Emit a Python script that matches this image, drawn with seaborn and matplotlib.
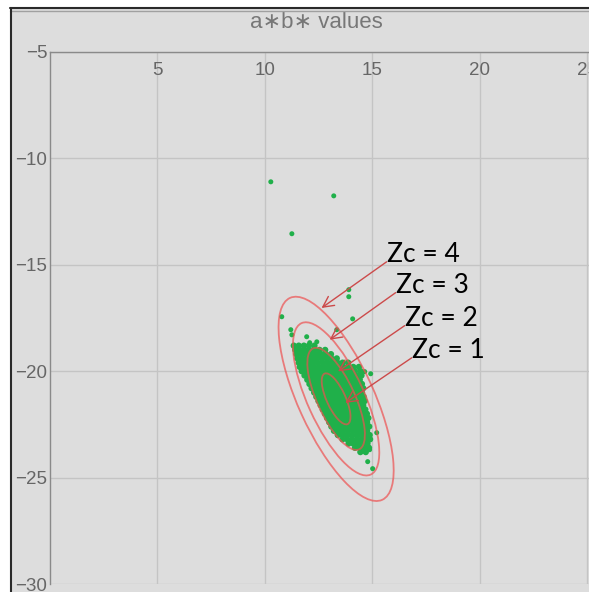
import numpy as np
import pandas as pd
import matplotlib
matplotlib.use("Agg")
import matplotlib.pyplot as plt
from matplotlib.patches import Ellipse, Rectangle
from matplotlib.lines import Line2D
from matplotlib.ticker import MultipleLocator
import seaborn as sns

# dense cluster (a* value lists per b* row)
row_y = [-18.8, -19.0, -19.2, -19.4, -19.6, -19.8, -20.0, -20.2, -20.4,
         -20.6, -20.8, -21.0, -21.2, -21.4, -21.6, -21.8, -22.0, -22.2,
         -22.4, -22.6, -22.8, -23.0, -23.2, -23.4, -23.6, -23.8]
row_x = [
    [11.35, 11.58, 11.82, 12.05, 12.31],
    [11.42, 11.63, 11.85, 12.08, 12.30, 12.55, 12.81],
    [11.47, 11.70, 11.93, 12.14, 12.37, 12.60, 12.83, 13.08],
    [11.52, 11.74, 11.96, 12.19, 12.42, 12.65, 12.88, 13.10, 13.35],
    [11.58, 11.80, 12.03, 12.25, 12.47, 12.70, 12.92, 13.15, 13.38, 13.62, 13.88],
    [11.63, 11.86, 12.08, 12.30, 12.53, 12.75, 12.98, 13.20, 13.43, 13.66, 13.90, 14.12, 14.38],
    [11.72, 11.95, 12.17, 12.39, 12.61, 12.84, 13.06, 13.29, 13.51, 13.74, 13.96, 14.19, 14.45],
    [11.85, 12.06, 12.28, 12.50, 12.72, 12.95, 13.17, 13.40, 13.62, 13.85, 14.07, 14.30, 14.50],
    [11.98, 12.19, 12.41, 12.63, 12.85, 13.07, 13.30, 13.52, 13.74, 13.97, 14.19, 14.42],
    [12.08, 12.30, 12.52, 12.74, 12.96, 13.18, 13.41, 13.63, 13.86, 14.08, 14.31, 14.52],
    [12.18, 12.40, 12.62, 12.84, 13.06, 13.28, 13.50, 13.73, 13.95, 14.18, 14.40, 14.58],
    [12.30, 12.52, 12.74, 12.96, 13.18, 13.40, 13.62, 13.84, 14.06, 14.29, 14.52],
    [12.40, 12.62, 12.84, 13.06, 13.28, 13.50, 13.72, 13.94, 14.16, 14.38, 14.60],
    [12.50, 12.72, 12.94, 13.16, 13.38, 13.60, 13.82, 14.04, 14.26, 14.48, 14.65],
    [12.60, 12.82, 13.04, 13.26, 13.48, 13.70, 13.92, 14.14, 14.36, 14.58],
    [12.70, 12.92, 13.14, 13.36, 13.58, 13.80, 14.02, 14.24, 14.46, 14.68],
    [12.80, 13.02, 13.24, 13.46, 13.68, 13.90, 14.12, 14.34, 14.56, 14.75],
    [12.90, 13.12, 13.34, 13.56, 13.78, 14.00, 14.22, 14.44, 14.66, 14.82],
    [13.00, 13.22, 13.44, 13.66, 13.88, 14.10, 14.32, 14.54, 14.76],
    [13.10, 13.32, 13.54, 13.76, 13.98, 14.20, 14.42, 14.64, 14.86],
    [13.22, 13.44, 13.66, 13.88, 14.10, 14.32, 14.54, 14.76],
    [13.40, 13.62, 13.84, 14.06, 14.28, 14.50, 14.72, 14.88],
    [13.62, 13.84, 14.06, 14.28, 14.50, 14.72, 14.90],
    [13.90, 14.12, 14.34, 14.56, 14.78],
    [14.20, 14.42, 14.64, 14.85],
    [14.45, 14.70],
]

# scattered points outside the dense core
outlier_x = [10.28, 13.21, 11.26, 13.91, 13.91, 10.79, 14.09, 13.35, 11.21, 11.26,
             11.95, 12.42, 12.09, 14.93, 14.65, 14.42, 14.79, 15.21, 14.79, 15.02, 14.88]
outlier_y = [-11.10, -11.76, -13.54, -16.17, -16.50, -17.44, -17.54, -18.05, -18.05, -18.29,
             -18.38, -18.62, -18.66, -20.12, -20.02, -20.73, -22.60, -22.89, -24.25, -24.58, -23.69]

# confidence ellipses
mean_ab = (13.32, -21.30)
sd_a, sd_b, rho = 0.67, 1.20, -0.70
zc_levels = [1, 2, 3, 4]
# label anchor (arrow tail) and arrow head for each Zc
label_xy = [(16.84, -19.37), (16.51, -17.86), (16.09, -16.31), (15.67, -14.86)]
head_xy = [(13.75, -21.49), (13.41, -20.01), (13.02, -18.52), (12.64, -17.03)]

cx, cy = [], []
for y, row in zip(row_y, row_x):
    cx += row
    cy += [y] * len(row)
core = pd.DataFrame({"a": cx, "b": cy})
outer = pd.DataFrame({"a": outlier_x, "b": outlier_y})

sns.set_style("white")
plt.rcParams["font.family"] = ["Liberation Sans", "DejaVu Sans"]

bg = "#dddddd"
fig = plt.figure(figsize=(5.89, 5.92), dpi=100, facecolor=bg)
W, H = 589.0, 592.0
ax = fig.add_axes([50 / W, 8 / H, 539 / W, 532 / H])
ax.set_facecolor(bg)

green = "#20b04a"
sns.scatterplot(data=core, x="a", y="b", ax=ax, color=green, s=21,
                edgecolor="none", linewidth=0, zorder=3)
sns.scatterplot(data=outer, x="a", y="b", ax=ax, color=green, s=13,
                edgecolor="none", linewidth=0, zorder=3)

cov = np.array([[sd_a ** 2, rho * sd_a * sd_b], [rho * sd_a * sd_b, sd_b ** 2]])
vals, vecs = np.linalg.eigh(cov)
angle = np.degrees(np.arctan2(vecs[1, 1], vecs[0, 1]))
for z in zc_levels:
    e = Ellipse(mean_ab, 2 * z * np.sqrt(vals[1]), 2 * z * np.sqrt(vals[0]), angle=angle,
                facecolor="none", edgecolor="#ee5050", alpha=0.7, lw=1.3, zorder=4)
    ax.add_patch(e)

for z, (tx, ty), (hx, hy) in zip(zc_levels, label_xy, head_xy):
    ax.annotate("", xy=(hx, hy), xytext=(tx, ty),
                arrowprops=dict(arrowstyle="->,head_length=0.55,head_width=0.28",
                                color="#cc4a4a", lw=1.0, shrinkA=0, shrinkB=0,
                                mutation_scale=14), zorder=5)
    ax.text(tx, ty, f"Zc = {z}", ha="left", va="baseline", fontsize=19,
            family=["Lato", "DejaVu Sans"], color="black", zorder=6)

ax.set_xlim(0, 25 * 539 / 537)
ax.set_ylim(-30, -5)
ax.set_xlabel("")
ax.set_ylabel("")

ax.spines["bottom"].set_position(("data", -5))
ax.spines["top"].set_visible(False)
ax.spines["right"].set_visible(False)
for s in ["bottom", "left"]:
    ax.spines[s].set_color("#8a8a8a")
    ax.spines[s].set_linewidth(1.0)

ax.set_xticks([5, 10, 15, 20, 25])
ax.set_yticks([-5, -10, -15, -20, -25, -30])
ax.xaxis.set_minor_locator(MultipleLocator(1))
ax.yaxis.set_minor_locator(MultipleLocator(1))
ax.tick_params(axis="x", which="major", direction="out", length=4, width=1,
               color="#8a8a8a", labelsize=13.5, labelcolor="#666666", pad=3)
ax.tick_params(axis="x", which="minor", direction="out", length=2, width=0.8, color="#8a8a8a")
ax.tick_params(axis="y", which="major", direction="in", length=4, width=1,
               color="#8a8a8a", labelsize=13.5, labelcolor="#666666", pad=2)
ax.tick_params(axis="y", which="minor", direction="in", length=2, width=0.8, color="#8a8a8a")
ax.grid(True, which="major", color="#c4c4c4", lw=1.0)
ax.set_axisbelow(True)

fig.text(316 / W, 1 - 22 / H, "a\u2217b\u2217 values", ha="center", va="center",
         fontsize=16, color="#777777")

# window frame: white margin, dark edge top and left
fig.add_artist(Rectangle((0, 1 - 7 / H), 1, 7 / H, transform=fig.transFigure,
                         facecolor="white", edgecolor="none", zorder=10))
fig.add_artist(Rectangle((0, 0), 10 / W, 1, transform=fig.transFigure,
                         facecolor="white", edgecolor="none", zorder=10))
fig.add_artist(Line2D([10 / W, 1], [1 - 8 / H, 1 - 8 / H], transform=fig.transFigure,
                      color="#2a2a2a", lw=1.5, zorder=11))
fig.add_artist(Line2D([10 / W, 1], [1 - 10.5 / H, 1 - 10.5 / H], transform=fig.transFigure,
                      color="#a0a0a0", lw=1.0, zorder=11))
fig.add_artist(Line2D([10.5 / W, 10.5 / W], [0, 1 - 8 / H], transform=fig.transFigure,
                      color="#2a2a2a", lw=1.5, zorder=11))

fig.savefig("out.png", dpi=100, facecolor=bg)
